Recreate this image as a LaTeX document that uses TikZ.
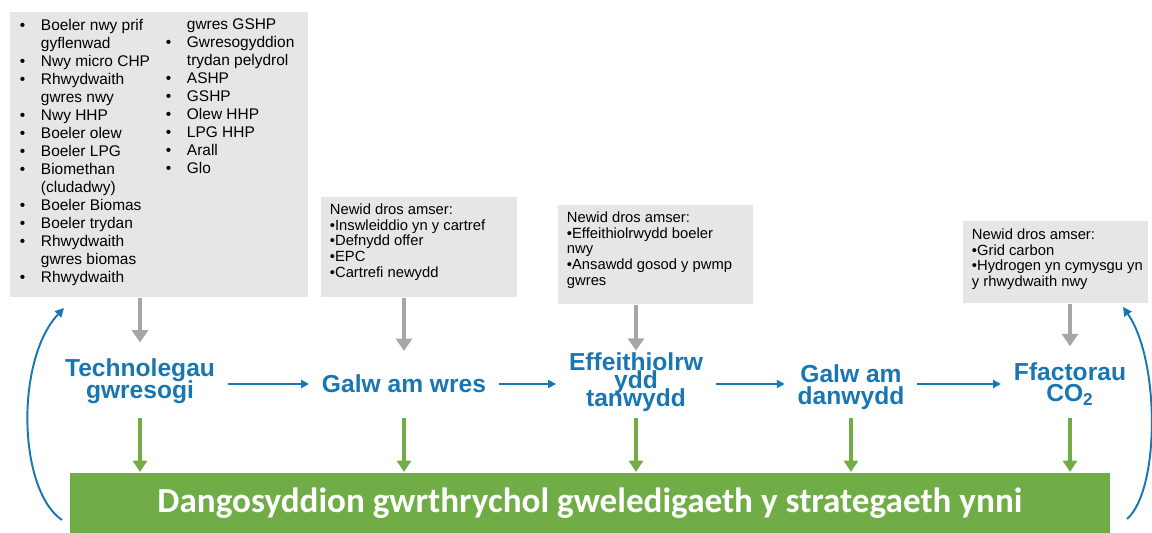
\documentclass[tikz,border=0pt]{standalone}
\usepackage{fontspec}
\setmainfont{Liberation Sans}
\newfontfamily\barfont{Carlito}
\usetikzlibrary{arrows.meta}
\definecolor{labblue}{RGB}{24,118,178}
\definecolor{bargreen}{RGB}{112,173,71}
\definecolor{arrgray}{RGB}{166,166,166}
\definecolor{boxgray}{RGB}{230,230,230}
\newcommand{\bi}{\makebox[0.42cm][l]{\textbullet}}
\newcommand{\ci}{\hspace*{0.42cm}}
\newcommand{\tightls}{\lineskiplimit-20pt\relax}
\begin{document}
\begin{tikzpicture}[x=0.02cm,y=0.02cm,line width=1.1pt,
  lab/.style={text=labblue,font=\fontsize{14}{12.5}\selectfont\bfseries\tightls,align=center,inner sep=0pt},
  box/.style={fill=boxgray,anchor=north west,inner sep=0pt},
  boxtxt/.style={anchor=north west,align=left,inner sep=0pt,font=\fontsize{8.4}{8.9}\selectfont},
  coltxt/.style={boxtxt,font=\fontsize{8.8}{10.25}\selectfont},
  grayarr/.style={draw=arrgray,line width=2.3pt,-{Triangle[width=9pt,length=7pt]}},
  greenarr/.style={draw=bargreen,line width=1.8pt,-{Triangle[width=8pt,length=6.5pt]}},
  bluearr/.style={draw=labblue,-{Triangle[width=4.5pt,length=4.5pt]},shorten <=0.24cm,shorten >=0.24cm}]
\useasboundingbox (0,0) rectangle (1152,-533);
% boxes
\node[box,minimum width=5.96cm,minimum height=5.7cm] (bx1) at (9,-11) {};
\node[box,minimum width=3.92cm,minimum height=2cm] (bx2) at (320,-196) {};
\node[box,minimum width=3.9cm,minimum height=1.98cm] (bx3) at (557,-204) {};
\node[box,minimum width=3.7cm,minimum height=1.64cm] (bx4) at (962,-220) {};
\node[coltxt] (col1) at (19,-18) {\bi Boeler nwy prif\\\ci gyflenwad\\\bi Nwy micro CHP\\\bi Rhwydwaith\\\ci gwres nwy\\
\bi Nwy HHP\\\bi Boeler olew\\\bi Boeler LPG\\\bi Biomethan\\\ci (cludadwy)\\
\bi Boeler Biomas\\\bi Boeler trydan\\\bi Rhwydwaith\\\ci gwres biomas\\\bi Rhwydwaith};
\node[coltxt] (col2) at (165,-18) {\ci gwres GSHP\\\bi Gwresogyddion\\\ci trydan pelydrol\\\bi ASHP\\\bi GSHP\\
\bi Olew HHP\\\bi LPG HHP\\\bi Arall\\\bi Glo};
\node[boxtxt] (tx2) at (329,-203) {Newid dros amser:\\\textbullet Inswleiddio yn y cartref\\\textbullet Defnydd offer\\\textbullet EPC\\\textbullet Cartrefi newydd};
\node[boxtxt] (tx3) at (566,-211) {Newid dros amser:\\\textbullet Effeithiolrwydd boeler\\nwy\\\textbullet Ansawdd gosod y pwmp\\gwres};
\node[boxtxt] (tx4) at (971,-228) {Newid dros amser:\\\textbullet Grid carbon\\\textbullet Hydrogen yn cymysgu yn\\y rhwydwaith nwy};
% labels
\node[lab] (ltech) at (140,-381) {Technolegau\\gwresogi};
\node[lab] (lheat) at (404,-384) {Galw am wres};
\node[lab,font=\fontsize{14}{10.2}\selectfont\bfseries\tightls] (leff) at (636,-382) {Effeithiolrw\\ydd\\tanwydd};
\node[lab] (lfuel) at (851,-387) {Galw am\\danwydd};
\node[lab] (lco2) at (1070,-384) {Ffactorau\\CO\textsubscript{2}};
\node[fill=bargreen,minimum width=20.8cm,minimum height=1.22cm,anchor=north west,inner sep=0pt,
  text=white,font=\barfont\bfseries\fontsize{20}{22}\selectfont] (bar) at (69,-472) {Dangosyddion gwrthrychol gweledigaeth y strategaeth ynni};
% arrows
\foreach \b/\l/\s in {bx1/ltech/0.3,bx2/lheat/0.46,bx3/leff/0.02,bx4/lco2/0.3}
  \draw[grayarr,shorten >=\s cm] (\l |- \b.south) -- (\l.north);
\coordinate (gtop) at (0,-418);
\foreach \l in {ltech,lheat,leff,lfuel,lco2}
  \draw[greenarr] (\l |- gtop) -- (\l |- bar.north);
\draw[bluearr] (ltech.east |- lheat) -- (lheat.west);
\draw[bluearr] (lheat.east) -- (lheat.east -| leff.west);
\draw[bluearr] (lheat.east -| leff.east) -- (lheat.east -| lfuel.west);
\draw[bluearr] (lheat.east -| lfuel.east) -- (lheat.east -| lco2.west);
\coordinate (lbot) at (62,-520);
\coordinate (ltop) at (64,-308);
\coordinate (rbot) at (1127,-519);
\coordinate (rtop) at (1123,-307);
\draw[draw=labblue,-{Triangle[width=5pt,length=5pt]}] (lbot) .. controls (18,-490) and (15,-360) .. (ltop);
\draw[draw=labblue,-{Triangle[width=5pt,length=5pt]}] (rbot) .. controls (1160,-490) and (1160,-360) .. (rtop);
\end{tikzpicture}
\end{document}
